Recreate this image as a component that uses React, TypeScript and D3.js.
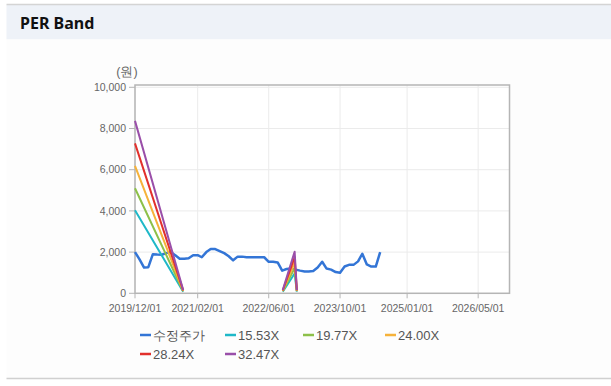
import React from "react";
import * as d3 from "d3";

const priceDates = [
  "2019-12-01","2020-01-01","2020-02-01","2020-03-01","2020-04-01","2020-05-01","2020-06-01","2020-07-01",
  "2020-08-01","2020-09-01","2020-10-01","2020-11-01","2020-12-01","2021-01-01","2021-02-01","2021-03-01",
  "2021-04-01","2021-05-01","2021-06-01","2021-07-01","2021-08-01","2021-09-01","2021-10-01","2021-11-01",
  "2021-12-01","2022-01-01","2022-02-01","2022-03-01","2022-04-01","2022-05-01","2022-06-01","2022-07-01",
  "2022-08-01","2022-09-01","2022-10-01","2022-11-01","2022-12-01","2023-01-01","2023-02-01","2023-03-01",
  "2023-04-01","2023-05-01","2023-06-01","2023-07-01","2023-08-01","2023-09-01","2023-10-01","2023-11-01",
  "2023-12-01","2024-01-01","2024-02-01","2024-03-01","2024-04-01","2024-05-01","2024-06-01","2024-07-01"
];
const priceValues = [
  2000, 1650, 1250, 1270, 1900, 1880, 1870, 1950,
  2000, 1850, 1680, 1680, 1700, 1850, 1850, 1750,
  2000, 2150, 2150, 2050, 1950, 1800, 1600, 1780,
  1780, 1750, 1750, 1750, 1750, 1750, 1530, 1530,
  1500, 1100, 1180, 1200, 1150, 1100, 1060, 1060,
  1080, 1250, 1530, 1200, 1150, 1030, 1000, 1300,
  1380, 1380, 1550, 1920, 1400, 1300, 1300, 2000
];

const bandDates = ["2019-12-01", "2020-10-25", "2021-06-01", "2022-09-05", "2022-11-25", "2022-12-10"];
const band1553 = [4030, 80, null, 80, 960, 80];
const band1977 = [5100, 100, null, 100, 1230, 100];
const band2400 = [6190, 120, null, 120, 1490, 120];
const band2824 = [7280, 140, null, 140, 1750, 140];
const band3247 = [8370, 160, null, 160, 2020, 160];

const seriesNames = ["수정주가", "15.53X", "19.77X", "24.00X", "28.24X", "32.47X"];
const seriesColors = ["#3375d6", "#1fb8c8", "#8dc049", "#f6b23a", "#e2302c", "#9a4fa9"];

const xTickDates = ["2019-12-01", "2021-02-01", "2022-06-01", "2023-10-01", "2025-01-01", "2026-05-01"];
const xTickLabels = ["2019/12/01", "2021/02/01", "2022/06/01", "2023/10/01", "2025/01/01", "2026/05/01"];
const yTicks = [0, 2000, 4000, 6000, 8000, 10000];
const yUnit = "(원)";
const title = "PER Band";

export default function App() {
  const W = 611, H = 386;
  const left = 135, right = 509.5, top = 85, bottom = 293.3;
  const parse = d3.utcParse("%Y-%m-%d");
  const x = d3.scaleUtc()
    .domain([parse("2019-12-01")!, parse("2026-12-01")!])
    .range([left, right]);
  const y = d3.scaleLinear().domain([0, 10000]).range([bottom, 87.3]);

  const priceData = priceDates.map((d, i) => ({ d: parse(d)!, v: priceValues[i] as number | null }));
  const bands = [band1553, band1977, band2400, band2824, band3247].map((arr) =>
    bandDates.map((d, i) => ({ d: parse(d)!, v: arr[i] as number | null }))
  );

  const line = d3.line<{ d: Date; v: number | null }>()
    .defined((p) => p.v !== null)
    .x((p) => x(p.d))
    .y((p) => y(p.v as number));

  const tickFont = "'Liberation Sans', Arial, sans-serif";

  const legendRows = [
    [0, 1, 2, 3],
    [4, 5],
  ];
  const legendColX = [140, 225, 303, 385];
  const legendRowY = [335, 354];

  return (
    <svg width={W} height={H} style={{ position: "absolute", left: 0, top: 0, display: "block" }}>
      <rect x={0} y={0} width={W} height={H} fill="#ffffff" />
      <rect x={6.5} y={5} width={W - 6.5} height={34.5} fill="#eef2f8" />
      <rect x={6.5} y={39.5} width={W - 6.5} height={339} fill="#fdfdfd" />
      <line x1={6.5} x2={W} y1={4.5} y2={4.5} stroke="#d4d4d4" strokeWidth={1.5} />
      <line x1={6.5} x2={W} y1={378.5} y2={378.5} stroke="#d0d0d0" strokeWidth={1.5} />
      <text x={20} y={28.5} fontFamily="'Noto Sans', sans-serif" fontWeight={700} fontSize={16} fill="#111">
        {title}
      </text>

      <rect x={left} y={top} width={right - left} height={bottom - top} fill="#ffffff" />
      {yTicks.map((t) => (
        <line key={"gy" + t} x1={left} x2={right} y1={y(t)} y2={y(t)} stroke="#ebebeb" strokeWidth={1} />
      ))}
      {xTickDates.map((t) => (
        <line key={"gx" + t} x1={x(parse(t)!)} x2={x(parse(t)!)} y1={top} y2={bottom} stroke="#ebebeb" strokeWidth={1} />
      ))}
      <rect x={left} y={top} width={right - left} height={bottom - top} fill="none" stroke="#b5b5b5" strokeWidth={1.5} />

      {yTicks.map((t) => (
        <g key={"yt" + t}>
          <line x1={left - 6} x2={left} y1={y(t)} y2={y(t)} stroke="#b5b5b5" strokeWidth={1} />
          <text x={left - 9} y={y(t)} dy="0.35em" textAnchor="end" fontFamily={tickFont} fontSize={10.5} fill="#666">
            {d3.format(",")(t)}
          </text>
        </g>
      ))}
      <text x={127} y={76} textAnchor="middle" fontFamily={tickFont} fontSize={12.5} fill="#666">
        {yUnit}
      </text>

      {xTickDates.map((t, i) => (
        <g key={"xt" + t}>
          <line x1={x(parse(t)!)} x2={x(parse(t)!)} y1={bottom} y2={bottom + 5} stroke="#b5b5b5" strokeWidth={1} />
          <text x={x(parse(t)!)} y={312} textAnchor="middle" fontFamily={tickFont} fontSize={10.5} fill="#666">
            {xTickLabels[i]}
          </text>
        </g>
      ))}

      <path d={line(priceData) || ""} fill="none" stroke={seriesColors[0]} strokeWidth={2.5} strokeLinejoin="round" />
      {bands.map((b, i) => (
        <path key={"b" + i} d={line(b) || ""} fill="none" stroke={seriesColors[i + 1]} strokeWidth={2} strokeLinejoin="round" />
      ))}

      {legendRows.map((row, r) =>
        row.map((si, c) => (
          <g key={"lg" + si}>
            <line x1={legendColX[c]} x2={legendColX[c] + 11} y1={legendRowY[r]} y2={legendRowY[r]} stroke={seriesColors[si]} strokeWidth={2.5} />
            <text x={legendColX[c] + 13} y={legendRowY[r]} dy="0.36em" fontFamily={tickFont} fontSize={13} fill="#555">
              {seriesNames[si]}
            </text>
          </g>
        ))
      )}
    </svg>
  );
}
